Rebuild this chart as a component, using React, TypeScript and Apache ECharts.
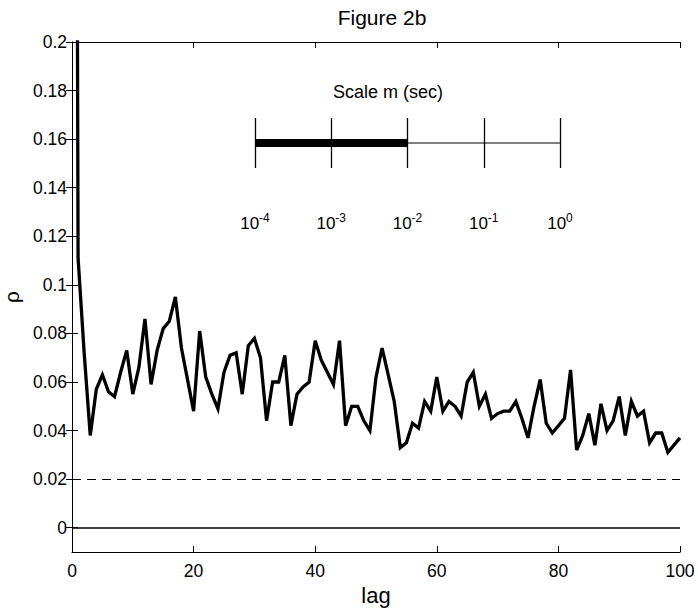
import React, { useEffect, useRef } from "react";
import * as echarts from "echarts";

const lags: number[] = Array.from({ length: 101 }, (_, i) => i);
const rho: number[] = [
  1.0, 0.111, 0.072, 0.038, 0.057, 0.063, 0.056, 0.054, 0.064, 0.073,
  0.055, 0.066, 0.086, 0.059, 0.073, 0.082, 0.085, 0.095, 0.074, 0.061,
  0.048, 0.081, 0.062, 0.055, 0.049, 0.064, 0.071, 0.072, 0.055, 0.075,
  0.078, 0.070, 0.044, 0.060, 0.060, 0.071, 0.042, 0.055, 0.058, 0.060,
  0.077, 0.069, 0.064, 0.059, 0.077, 0.042, 0.050, 0.050, 0.044, 0.040,
  0.062, 0.074, 0.063, 0.052, 0.033, 0.035, 0.043, 0.041, 0.052, 0.048,
  0.062, 0.048, 0.052, 0.050, 0.046, 0.060, 0.064, 0.050, 0.055, 0.045,
  0.047, 0.048, 0.048, 0.052, 0.045, 0.037, 0.050, 0.061, 0.043, 0.039,
  0.042, 0.045, 0.065, 0.032, 0.038, 0.047, 0.034, 0.051, 0.040, 0.044,
  0.054, 0.038, 0.052, 0.046, 0.048, 0.035, 0.039, 0.039, 0.031, 0.034,
  0.037,
];
const yTicks: number[] = [0, 0.02, 0.04, 0.06, 0.08, 0.1, 0.12, 0.14, 0.16, 0.18, 0.2];
const significance = 0.02;
const scaleTicks: number[] = [1e-4, 1e-3, 1e-2, 1e-1, 1];
const scaleExponents: string[] = ["-4", "-3", "-2", "-1", "0"];
const selectedScale: number[] = [1e-4, 1e-2];
const fullScale: number[] = [1e-2, 1];

const FONT = "'Liberation Sans', Arial, Helvetica, sans-serif";

export default function App() {
  const ref = useRef<HTMLDivElement>(null);
  useEffect(() => {
    if (!ref.current) return;
    const chart = echarts.init(ref.current, null, { renderer: "svg" });
    const axisCommon = {
      axisLine: { show: true, lineStyle: { color: "#000", width: 1 } },
      axisTick: { show: true, inside: true, length: 6, lineStyle: { color: "#000" } },
      splitLine: { show: false },
    };
    chart.setOption({
      animation: false,
      backgroundColor: "#fff",
      textStyle: { fontFamily: FONT },
      title: {
        text: "Figure 2b",
        left: 377,
        top: 2,
        textAlign: "center",
        textStyle: { fontFamily: FONT, fontSize: 21, fontWeight: "normal", color: "#000" },
      },
      graphic: [
        {
          type: "text",
          x: 388,
          y: 92,
          style: {
            text: "Scale m (sec)",
            fontFamily: FONT,
            fontSize: 18,
            fill: "#000",
            align: "center",
            verticalAlign: "middle",
          },
        },
      ],
      grid: [
        { left: 72, top: 42, width: 608, height: 510, containLabel: false, outerBoundsMode: "none" },
        { left: 255, top: 118, width: 305, height: 50, containLabel: false, outerBoundsMode: "none" },
      ],
      xAxis: [
        {
          gridIndex: 0,
          type: "value",
          min: 0,
          max: 100,
          interval: 20,
          position: "bottom",
          name: "lag",
          nameLocation: "middle",
          nameGap: 32,
          nameTextStyle: { fontFamily: FONT, fontSize: 22, color: "#000" },
          axisLabel: { fontFamily: FONT, fontSize: 17.5, color: "#000", margin: 10 },
          ...axisCommon,
          axisLine: { show: true, onZero: false, lineStyle: { color: "#000", width: 1 } },
        },
        {
          gridIndex: 0,
          type: "value",
          min: 0,
          max: 100,
          interval: 20,
          position: "top",
          axisLabel: { show: false },
          ...axisCommon,
          axisLine: { show: true, onZero: false, lineStyle: { color: "#000", width: 1 } },
        },
        {
          gridIndex: 1,
          type: "log",
          logBase: 10,
          min: 1e-4,
          max: 1,
          axisLine: { show: false },
          axisTick: { show: false },
          splitLine: { show: true, lineStyle: { color: "#000", width: 1.3 } },
          axisLabel: {
            margin: 44,
            color: "#000",
            formatter: (v: number) => {
              const i = scaleTicks.findIndex((t) => Math.abs(Math.log10(t) - Math.log10(v)) < 1e-6);
              if (i < 0) return "";
              return "{b|10}{s|" + scaleExponents[i] + "}";
            },
            rich: {
              b: { fontFamily: FONT, fontSize: 17, color: "#000", verticalAlign: "bottom", lineHeight: 20 },
              s: { fontFamily: FONT, fontSize: 12, color: "#000", verticalAlign: "top", lineHeight: 14, padding: [0, 0, 9, 0] },
            },
          },
        },
      ],
      yAxis: [
        {
          gridIndex: 0,
          type: "value",
          min: -0.01,
          max: 0.2,
          position: "left",
          name: "ρ",
          nameLocation: "middle",
          nameRotate: 90,
          nameGap: 43,
          nameTextStyle: { fontFamily: FONT, fontSize: 21, color: "#000" },
          axisLabel: {
            fontFamily: FONT,
            fontSize: 17.5,
            color: "#000",
            margin: 5,
            customValues: yTicks,
            formatter: (v: number) => String(+v.toFixed(2)),
          },
          ...axisCommon,
          axisTick: { show: true, inside: true, length: 6, customValues: yTicks, lineStyle: { color: "#000" } },
        },
        {
          gridIndex: 0,
          type: "value",
          min: -0.01,
          max: 0.2,
          position: "right",
          axisLabel: { show: false, customValues: yTicks },
          ...axisCommon,
          axisTick: { show: true, inside: true, length: 6, customValues: yTicks, lineStyle: { color: "#000" } },
        },
        {
          gridIndex: 1,
          type: "value",
          min: 0,
          max: 1,
          show: false,
        },
      ],
      series: [
        {
          type: "line",
          xAxisIndex: 0,
          yAxisIndex: 0,
          data: lags.map((l, i) => [l, rho[i]]),
          showSymbol: false,
          symbol: "none",
          clip: true,
          lineStyle: { color: "#000", width: 3.3, join: "miter" },
          markLine: {
            silent: true,
            symbol: "none",
            label: { show: false },
            data: [
              { yAxis: 0, lineStyle: { color: "#000", width: 1.5, type: "solid" } },
              { yAxis: significance, lineStyle: { color: "#000", width: 1, type: [9, 6] } },
            ],
          },
          z: 3,
        },
        {
          type: "line",
          xAxisIndex: 2,
          yAxisIndex: 2,
          data: selectedScale.map((v) => [v, 0.5]),
          symbol: "none",
          lineStyle: { color: "#000", width: 8 },
        },
        {
          type: "line",
          xAxisIndex: 2,
          yAxisIndex: 2,
          data: fullScale.map((v) => [v, 0.5]),
          symbol: "none",
          lineStyle: { color: "#000", width: 1 },
        },
      ],
    });
    return () => chart.dispose();
  }, []);
  return (
    <div
      ref={ref}
      style={{ position: "fixed", left: 0, top: 0, width: 698, height: 611, background: "#fff" }}
    />
  );
}
